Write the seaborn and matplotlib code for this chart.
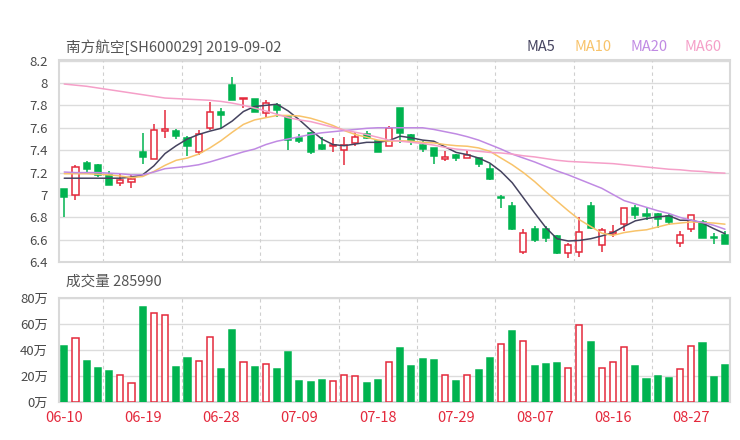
import matplotlib
matplotlib.use('Agg')
import matplotlib.pyplot as plt
import numpy as np
import pandas as pd
import seaborn as sns

# trading days shown on the chart
dates = pd.bdate_range('2019-06-10', '2019-08-30')

opens = [7.05, 7.00, 7.29, 7.27, 7.18, 7.11, 7.12, 7.38, 7.32, 7.57,
         7.575, 7.51, 7.385, 7.60, 7.74, 7.985, 7.855, 7.855, 7.73, 7.80,
         7.70, 7.51, 7.55, 7.45, 7.44, 7.40, 7.46, 7.54, 7.48, 7.44,
         7.78, 7.535, 7.45, 7.42, 7.32, 7.36, 7.33, 7.33, 7.23, 6.975,
         6.90, 6.495, 6.70, 6.70, 6.635, 6.48, 6.495, 6.90, 6.555, 6.65,
         6.74, 6.88, 6.83, 6.835, 6.81, 6.575, 6.70, 6.755, 6.63, 6.64]
highs = [7.05, 7.27, 7.30, 7.28, 7.21, 7.19, 7.18, 7.55, 7.63, 7.76,
         7.59, 7.53, 7.58, 7.83, 7.78, 8.05, 7.865, 7.86, 7.85, 7.82,
         7.70, 7.54, 7.565, 7.52, 7.51, 7.52, 7.56, 7.57, 7.49, 7.62,
         7.78, 7.54, 7.48, 7.42, 7.39, 7.37, 7.40, 7.33, 7.28, 7.00,
         6.94, 6.70, 6.72, 6.72, 6.64, 6.57, 6.80, 6.94, 6.71, 6.73,
         6.885, 6.91, 6.885, 6.84, 6.83, 6.675, 6.825, 6.775, 6.66, 6.68]
lows = [6.80, 6.96, 7.19, 7.16, 7.09, 7.08, 7.06, 7.28, 7.32, 7.51,
        7.50, 7.35, 7.36, 7.58, 7.60, 7.85, 7.78, 7.74, 7.69, 7.70,
        7.40, 7.46, 7.37, 7.40, 7.38, 7.27, 7.44, 7.50, 7.38, 7.44,
        7.46, 7.45, 7.38, 7.28, 7.30, 7.30, 7.33, 7.25, 7.13, 6.88,
        6.69, 6.47, 6.58, 6.58, 6.47, 6.44, 6.45, 6.70, 6.49, 6.63,
        6.675, 6.79, 6.775, 6.705, 6.735, 6.54, 6.67, 6.615, 6.56, 6.565]
closes = [6.98, 7.25, 7.23, 7.18, 7.09, 7.13, 7.14, 7.34, 7.58, 7.59,
          7.53, 7.44, 7.545, 7.74, 7.71, 7.85, 7.865, 7.74, 7.82, 7.76,
          7.495, 7.48, 7.38, 7.41, 7.45, 7.45, 7.52, 7.51, 7.385, 7.595,
          7.55, 7.48, 7.41, 7.35, 7.34, 7.33, 7.36, 7.28, 7.14, 6.975,
          6.70, 6.66, 6.60, 6.615, 6.48, 6.555, 6.67, 6.705, 6.69, 6.67,
          6.88, 6.82, 6.81, 6.79, 6.76, 6.64, 6.825, 6.62, 6.615, 6.565]
# volume in 万 (10k)
volumes = [42.8, 48.9, 31.8, 26.2, 23.7, 20.6, 14.5, 72.6, 68.0, 66.5,
           27.3, 33.6, 31.3, 50.2, 25.2, 55.0, 30.6, 26.8, 29.0, 25.7,
           38.2, 16.1, 15.5, 17.3, 16.1, 21.1, 20.1, 14.8, 17.3, 30.8,
           41.5, 27.8, 32.9, 32.1, 21.1, 16.3, 21.1, 24.7, 33.9, 44.6,
           54.8, 46.9, 28.0, 29.0, 30.1, 26.0, 59.4, 45.9, 26.5, 30.8,
           42.0, 27.5, 17.8, 20.1, 18.6, 25.2, 42.8, 45.4, 19.1, 28.6]

ma5 = [7.15, 7.15, 7.15, 7.15, 7.15, 7.15, 7.16, 7.18, 7.26, 7.37,
       7.44, 7.50, 7.54, 7.57, 7.595, 7.66, 7.745, 7.79, 7.80, 7.81,
       7.75, 7.67, 7.58, 7.50, 7.45, 7.44, 7.455, 7.47, 7.47, 7.485,
       7.525, 7.51, 7.49, 7.48, 7.43, 7.38, 7.36, 7.33, 7.285, 7.21,
       7.11, 6.975, 6.84, 6.71, 6.61, 6.59, 6.595, 6.61, 6.635, 6.665,
       6.72, 6.77, 6.79, 6.805, 6.815, 6.775, 6.775, 6.75, 6.70, 6.655]
ma10 = [7.19, 7.19, 7.19, 7.185, 7.18, 7.17, 7.155, 7.165, 7.21, 7.265,
        7.31, 7.33, 7.365, 7.42, 7.485, 7.56, 7.63, 7.67, 7.69, 7.71,
        7.71, 7.705, 7.685, 7.655, 7.62, 7.575, 7.54, 7.515, 7.49, 7.48,
        7.485, 7.48, 7.47, 7.465, 7.45, 7.44, 7.435, 7.42, 7.39, 7.33,
        7.27, 7.20, 7.12, 7.03, 6.945, 6.86, 6.78, 6.72, 6.66, 6.64,
        6.665, 6.68, 6.69, 6.715, 6.74, 6.75, 6.76, 6.755, 6.75, 6.74]
ma20 = [7.205, 7.20, 7.20, 7.20, 7.195, 7.19, 7.18, 7.18, 7.205, 7.235,
        7.245, 7.255, 7.27, 7.295, 7.325, 7.355, 7.385, 7.41, 7.45, 7.48,
        7.50, 7.52, 7.54, 7.555, 7.565, 7.575, 7.585, 7.595, 7.60, 7.60,
        7.60, 7.60, 7.60, 7.585, 7.565, 7.545, 7.52, 7.49, 7.45, 7.41,
        7.365, 7.33, 7.295, 7.255, 7.215, 7.18, 7.14, 7.10, 7.06, 7.005,
        6.95, 6.92, 6.89, 6.86, 6.835, 6.80, 6.775, 6.755, 6.73, 6.695]
ma60 = [7.99, 7.98, 7.97, 7.955, 7.94, 7.925, 7.91, 7.895, 7.88, 7.865,
        7.86, 7.855, 7.85, 7.845, 7.835, 7.82, 7.80, 7.775, 7.75, 7.72,
        7.69, 7.67, 7.655, 7.63, 7.605, 7.58, 7.56, 7.54, 7.515, 7.49,
        7.48, 7.47, 7.46, 7.445, 7.425, 7.41, 7.40, 7.39, 7.38, 7.375,
        7.365, 7.35, 7.34, 7.325, 7.31, 7.30, 7.295, 7.29, 7.285, 7.28,
        7.27, 7.26, 7.25, 7.24, 7.23, 7.225, 7.215, 7.21, 7.20, 7.195]

ma_lines = [('MA5', ma5, '#45435f'), ('MA10', ma10, '#f8c36a'),
            ('MA20', ma20, '#c08ae3'), ('MA60', ma60, '#f59fc8')]

RED = '#e4293c'
GREEN = '#00b34f'
TEXT = '#4a4a4a'

sns.set_theme(style='white')
plt.rcParams['font.family'] = ['Noto Sans CJK SC', 'DejaVu Sans']

o = np.array(opens); h = np.array(highs); l = np.array(lows); c = np.array(closes)
x = np.arange(len(dates))
prev = np.r_[c[0], c[:-1]]
rising = np.where(c == o, c >= prev, c > o)
vol_rising = c >= o

fig = plt.figure(figsize=(7.4, 4.4), dpi=100)
ax = fig.add_axes([0.0797, 0.4039, 0.9068, 0.4586])
axv = fig.add_axes([0.0797, 0.0857, 0.9068, 0.2377])

# candles
w = 0.55
for i in x:
    col = RED if rising[i] else GREEN
    ax.vlines(i, l[i], h[i], color=col, lw=1.1, zorder=2)
    bottom = min(o[i], c[i])
    height = max(abs(c[i] - o[i]), 0.006)
    ax.bar(i, height, bottom=bottom, width=w,
           color='white' if rising[i] else GREEN, edgecolor=col,
           linewidth=1.1, zorder=3)

for name, vals, col in ma_lines:
    sns.lineplot(x=x, y=vals, ax=ax, color=col, lw=1.1, zorder=4)

# volume
for i in x:
    col = RED if vol_rising[i] else GREEN
    axv.bar(i, volumes[i], width=w, color='white' if vol_rising[i] else GREEN,
            edgecolor=col, linewidth=1.1, zorder=3)

grid_x = np.arange(3.5, 59, 7)
for a in (ax, axv):
    a.set_xlim(-0.47, 59.45)
    for gx in grid_x:
        a.axvline(gx, color='#cfcfcf', lw=0.8, ls=(0, (3, 3)), zorder=1)
    a.grid(axis='y', color='#dcdcdc', lw=1, zorder=0)
    a.set_axisbelow(True)
    for s in a.spines.values():
        s.set_color('#d9d9d9')
        s.set_linewidth(1.5)
    a.tick_params(length=0, pad=8, labelsize=9.5, labelcolor=TEXT)
    a.set_xlabel('')
    a.set_ylabel('')

ax.set_ylim(6.4, 8.2)
yt = np.round(np.arange(6.4, 8.21, 0.2), 1)
ax.set_yticks(yt)
ax.set_yticklabels([f'{v:g}' for v in yt])
ax.set_xticks([])

axv.set_ylim(0, 80)
axv.set_yticks([0, 20, 40, 60, 80])
axv.set_yticklabels([f'{v}万' for v in [0, 20, 40, 60, 80]])
tick_idx = np.arange(0, 60, 7)
axv.set_xticks(tick_idx)
axv.set_xticklabels([dates[i].strftime('%m-%d') for i in tick_idx])
axv.tick_params(axis='x', labelsize=10.5, labelcolor=RED, pad=6)

fig.text(0.089, 0.893, '南方航空[SH600029] 2019-09-02', fontsize=10.5, color='#555555', va='center')
fig.text(0.089, 0.359, '成交量 285990', fontsize=10.5, color='#555555', va='center')
leg_x = [527, 574, 630, 685]
for (name, vals, col), lx in zip(ma_lines, leg_x):
    fig.text(lx / 740, 0.893, name, fontsize=10.5, color=col, va='center')

fig.savefig('out.png', dpi=100)
